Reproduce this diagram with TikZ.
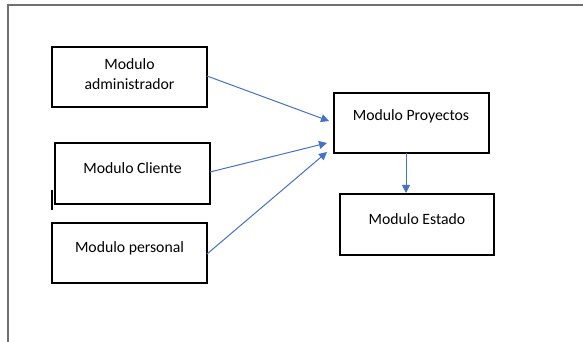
\documentclass[tikz,border=0pt]{standalone}
\usepackage{fontspec}
\setmainfont{Carlito}
\usetikzlibrary{arrows.meta}
\definecolor{linkblue}{HTML}{4472C4}
\definecolor{framegray}{HTML}{707070}
\begin{document}
\begin{tikzpicture}[x=0.75pt,y=-0.75pt,
  modbox/.style={draw=black,line width=0.8pt},
  label/.style={font=\fontsize{11.8}{15.5}\selectfont,align=center,inner sep=0pt},
  link/.style={draw=linkblue,line width=0.75pt,-{Triangle[length=6pt,width=6pt]}}]
\useasboundingbox (0,0) rectangle (583,342);
% page frame
\draw[framegray,line width=1.2pt] (8,342) -- (8,5) -- (583,5);
% module boxes
\draw[modbox] (52,47) rectangle (207,107);
\draw[modbox] (55,143) rectangle (210,204);
\draw[modbox] (52,223) rectangle (207,283);
\draw[modbox] (334,93) rectangle (489,153);
\draw[modbox] (340,194) rectangle (494,255);
% box labels
\node[label] (admin) at (129.5,74) {Modulo\\administrador};
\node[label] (cliente) at (132.5,168.5) {Modulo Cliente};
\node[label] (personal) at (129.5,248.5) {Modulo personal};
\node[label] (proy) at (411,116.5) {Modulo Proyectos};
\node[label] (estado) at (417,219) {Modulo Estado};
% connector anchors on the box edges
\coordinate (adminR) at (207,76);
\coordinate (clienteR) at (210,172);
\coordinate (personalR) at (207,254);
\coordinate (proyA) at (329,121);
\coordinate (proyB) at (327,143);
\coordinate (proyC) at (327,152);
\coordinate (proyD) at (406,153);
\coordinate (estadoT) at (406,193);
% stray cursor mark
\draw[black,line width=0.8pt] (52,190) -- (52,210);
% connectors
\draw[link] (adminR) -- (proyA);
\draw[link] (clienteR) -- (proyB);
\draw[link] (personalR) -- (proyC);
\draw[link] (proyD) -- (estadoT);
\end{tikzpicture}
\end{document}
